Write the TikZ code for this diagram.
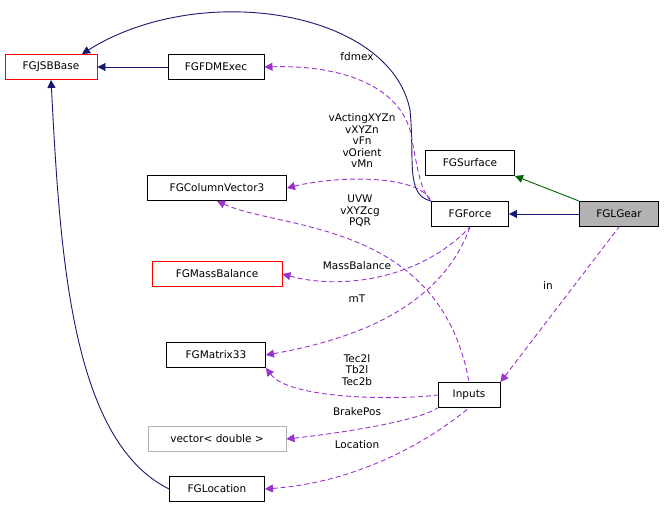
\documentclass[tikz,border=0pt]{standalone}
\usepackage{fontspec}
\setmainfont{DejaVu Sans}
\usetikzlibrary{arrows.meta}
\definecolor{edgeblue}{HTML}{191970}
\definecolor{edgegreen}{HTML}{006400}
\definecolor{edgepurple}{HTML}{9A32CD}
\begin{document}
\begin{tikzpicture}[x = 1pt, y = -1pt, % pixel units
                > = {Triangle[length=8pt, width=8pt]}, % arrow head style
                line width = 0.9pt,
                font = \fontsize{10.5}{11.5}\selectfont
            ]

            \tikzstyle{every node}=[inner sep = 0pt]
            \tikzstyle{cls}=[draw = black, fill = white, minimum height = 25pt,
            inner xsep = 6pt]
            \tikzstyle{inherit}=[draw = edgeblue, <-]
            \tikzstyle{usage}=[draw = edgepurple, dashed, dash pattern = on 5pt off 3pt, <-]
            \tikzstyle{lbl}=[align = center, font = \fontsize{10.5}{11.5}\selectfont]

            \useasboundingbox (0,0) rectangle (664,509);

            \node[cls, draw = red, minimum width = 92pt] (jsb) at (51,67) {FGJSBBase};
            \node[cls, minimum width = 96pt] (fdm) at (216,67) {FGFDMExec};
            \node[cls, minimum width = 139pt] (cv3) at (217,188) {FGColumnVector3};
            \node[cls, minimum width = 89pt] (surf) at (470,163) {FGSurface};
            \node[cls, minimum width = 77pt] (force) at (470,214) {FGForce};
            \node[cls, fill = black!30, minimum width = 79pt] (gear) at (619,214) {FGLGear};
            \node[cls, draw = red, minimum width = 130pt] (mass) at (217,274) {FGMassBalance};
            \node[cls, minimum width = 99pt] (m33) at (216,355) {FGMatrix33};
            \node[cls, minimum width = 62pt] (inp) at (469,395) {Inputs};
            \node[cls, draw = black!30, minimum width = 138pt] (vec) at (217,439) {vector< double >};
            \node[cls, minimum width = 95pt] (loc) at (217,489) {FGLocation};

            % inheritance
            \draw[inherit] (jsb) -- (fdm);
            \draw[inherit] (jsb.south) .. controls (60,250) and (70,440) .. (loc.west);
            \draw[inherit] (82,54) .. controls (200,-20) and (390,10) .. (410,110)
                .. controls (415,160) and (405,195) .. (force.north west);
            \draw[<-, draw = edgegreen] (surf.south east) -- (gear.north west);
            \draw[inherit] (force) -- (gear);

            % usage
            \draw[usage] (fdm.east) .. controls (330,65) and (395,80) .. (410,130)
                .. controls (418,170) and (420,190) .. (force.north west);
            \draw[usage] (cv3.east) .. controls (340,175) and (420,175) .. (force.north west);
            \draw[usage] (cv3.south) .. controls (280,230) and (440,220) .. (inp.north);
            \draw[usage] (mass.east) .. controls (340,290) and (420,280) .. (force.south);
            \draw[usage] (m33.east) .. controls (350,340) and (440,310) .. (force.south);
            \draw[usage] (m33.south east) .. controls (290,400) and (400,400) .. (inp.west);
            \draw[usage] (vec.east) .. controls (350,432) and (420,420) .. (inp.south west);
            \draw[usage] (loc.east) .. controls (360,482) and (430,440) .. (inp.south);
            \draw[usage] (inp.north east) -- (gear.south);

            % labels
            \node[lbl] at (362,141) {vActingXYZn\\vXYZn\\vFn\\vOrient\\vMn};
            \node[lbl] at (357,57) {fdmex};
            \node[lbl] at (360,211) {UVW\\vXYZcg\\PQR};
            \node[lbl] at (357,266) {MassBalance};
            \node[lbl] at (357,299) {mT};
            \node[lbl] at (357,370) {Tec2l\\Tb2l\\Tec2b};
            \node[lbl] at (357,412) {BrakePos};
            \node[lbl] at (357,445) {Location};
            \node[lbl] at (548,286) {in};
        \end{tikzpicture}
\end{document}
